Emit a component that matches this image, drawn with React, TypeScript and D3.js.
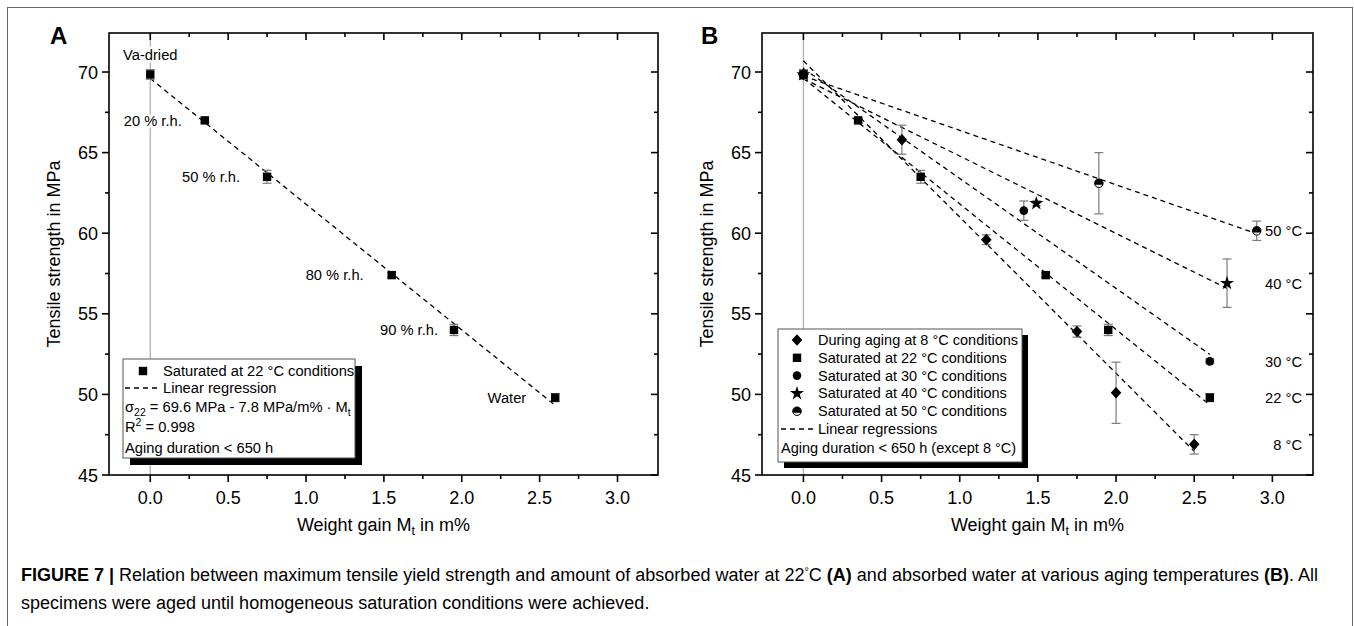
import React from "react";
import * as d3 from "d3";

const FONT = "'Liberation Sans', Arial, Helvetica, sans-serif";

// ---------- data ----------
const xTickValues = [0, 0.5, 1.0, 1.5, 2.0, 2.5, 3.0];
const xMinorValues = [-0.25, 0.25, 0.75, 1.25, 1.75, 2.25, 2.75, 3.25];
const yTickValues = [45, 50, 55, 60, 65, 70];
const yMinorValues = [47.5, 52.5, 57.5, 62.5, 67.5];

// Panel A: saturated at 22 °C
const aX = [0, 0.35, 0.75, 1.55, 1.95, 2.6];
const aY = [69.85, 67.0, 63.5, 57.4, 54.0, 49.8];
const aErr = [0.3, 0.15, 0.4, 0.15, 0.35, 0.25];
const aLabels = ["Va-dried", "20 % r.h.", "50 % r.h.", "80 % r.h.", "90 % r.h.", "Water"];
const aIntercept = 69.6;
const aSlope = -7.8;

// Panel B series
const b8X = [0, 0.63, 1.17, 1.75, 2.0, 2.5];
const b8Y = [69.85, 65.8, 59.6, 53.9, 50.1, 46.9];
const b8Err = [0.3, 0.9, 0.3, 0.35, 1.9, 0.6];

const b22X = [0, 0.35, 0.75, 1.55, 1.95, 2.6];
const b22Y = [69.85, 67.0, 63.5, 57.4, 54.0, 49.8];
const b22Err = [0.3, 0.15, 0.4, 0.15, 0.35, 0.25];

const b30X = [0, 1.41, 2.6];
const b30Y = [69.85, 61.4, 52.05];
const b30Err = [0.3, 0.6, 0.15];

const b40X = [0, 1.49, 2.71];
const b40Y = [69.85, 61.85, 56.9];
const b40Err = [0.3, 0.15, 1.5];

const b50X = [0, 1.89, 2.9];
const b50Y = [69.85, 63.1, 60.15];
const b50Err = [0.3, 1.9, 0.6];

const bSeriesNames = [
  "During aging at 8 °C conditions",
  "Saturated at 22 °C conditions",
  "Saturated at 30 °C conditions",
  "Saturated at 40 °C conditions",
  "Saturated at 50 °C conditions",
];
const bTempLabels = ["8 °C", "22 °C", "30 °C", "40 °C", "50 °C"];

// ---------- layout ----------
const W = 1354;
const H = 626;
const TOP = 33;
const BOTTOM = 475;
const X_DOMAIN: [number, number] = [-0.265, 3.26];
const Y_DOMAIN: [number, number] = [45, 72.42];

type Marker = "square" | "diamond" | "circle" | "star" | "half";

function linreg(xs: number[], ys: number[]) {
  const mx = d3.mean(xs)!;
  const my = d3.mean(ys)!;
  let sxy = 0;
  let sxx = 0;
  xs.forEach((x, i) => {
    sxy += (x - mx) * (ys[i] - my);
    sxx += (x - mx) * (x - mx);
  });
  const slope = sxy / sxx;
  return { slope, intercept: my - slope * mx };
}

const starPath = d3.symbol().type(d3.symbolStar).size(62)()!;

function MarkerShape({ type, cx, cy }: { type: Marker; cx: number; cy: number }) {
  if (type === "square") return <rect x={cx - 4.2} y={cy - 4.2} width={8.4} height={8.4} fill="#000" />;
  if (type === "diamond")
    return (
      <path
        d={`M${cx},${cy - 5.8}L${cx + 5.3},${cy}L${cx},${cy + 5.8}L${cx - 5.3},${cy}Z`}
        fill="#000"
      />
    );
  if (type === "circle") return <circle cx={cx} cy={cy} r={4.3} fill="#000" />;
  if (type === "star") return <path d={starPath} transform={`translate(${cx},${cy})`} fill="#000" />;
  // half-filled circle: black with a light lower segment
  const r = 4.3;
  const h = 1.6;
  const w = Math.sqrt(r * r - h * h);
  return (
    <g>
      <circle cx={cx} cy={cy} r={r} fill="#000" />
      <path d={`M${cx - w},${cy + h} A${r},${r} 0 0 0 ${cx + w},${cy + h} Z`} fill="#e6e6e6" />
      <circle cx={cx} cy={cy} r={r} fill="none" stroke="#000" strokeWidth={0.9} />
    </g>
  );
}

function Axes({
  x,
  y,
  left,
  right,
}: {
  x: d3.ScaleLinear<number, number>;
  y: d3.ScaleLinear<number, number>;
  left: number;
  right: number;
}) {
  const maj = 7;
  const min = 4;
  const sw = 1.6;
  const inX = (v: number) => x(v) > left + 3 && x(v) < right - 3;
  return (
    <g stroke="#000" strokeWidth={sw} fill="none">
      <rect x={left} y={TOP} width={right - left} height={BOTTOM - TOP} />
      {xTickValues.map((v) => (
        <g key={"xm" + v}>
          <line x1={x(v)} x2={x(v)} y1={BOTTOM} y2={BOTTOM + maj} />
          <line x1={x(v)} x2={x(v)} y1={TOP} y2={TOP + maj} />
        </g>
      ))}
      {xMinorValues.filter(inX).map((v) => (
        <g key={"xn" + v}>
          <line x1={x(v)} x2={x(v)} y1={BOTTOM} y2={BOTTOM + min} />
          <line x1={x(v)} x2={x(v)} y1={TOP} y2={TOP + min} />
        </g>
      ))}
      {yTickValues.map((v) => (
        <g key={"ym" + v}>
          <line x1={left - maj} x2={left} y1={y(v)} y2={y(v)} />
          <line x1={right - maj} x2={right} y1={y(v)} y2={y(v)} />
        </g>
      ))}
      {yMinorValues.map((v) => (
        <g key={"yn" + v}>
          <line x1={left - min} x2={left} y1={y(v)} y2={y(v)} />
          <line x1={right - min} x2={right} y1={y(v)} y2={y(v)} />
        </g>
      ))}
      <g stroke="none" fill="#000" fontFamily={FONT} fontSize={18}>
        {xTickValues.map((v) => (
          <text key={"xl" + v} x={x(v)} y={504} textAnchor="middle">
            {d3.format(".1f")(v)}
          </text>
        ))}
        {yTickValues.map((v) => (
          <text key={"yl" + v} x={left - 11} y={y(v) + 6.5} textAnchor="end">
            {v}
          </text>
        ))}
        <text x={(left + right) / 2} y={531} textAnchor="middle">
          Weight gain M
          <tspan dy={4} fontSize={12.5}>
            t
          </tspan>
          <tspan dy={-4}> in m%</tspan>
        </text>
        <text
          transform={`translate(${left - 49},${(TOP + BOTTOM) / 2}) rotate(-90)`}
          textAnchor="middle"
        >
          Tensile strength in MPa
        </text>
      </g>
    </g>
  );
}

function ErrorBar({ cx, y1, y2 }: { cx: number; y1: number; y2: number }) {
  const c = 4.5;
  return (
    <g stroke="#7a7a7a" strokeWidth={1.2}>
      <line x1={cx} x2={cx} y1={y1} y2={y2} />
      <line x1={cx - c} x2={cx + c} y1={y1} y2={y1} />
      <line x1={cx - c} x2={cx + c} y1={y2} y2={y2} />
    </g>
  );
}

const DASH = "5,4";

function PanelA() {
  const left = 109;
  const right = 658;
  const x = d3.scaleLinear().domain(X_DOMAIN).range([left, right]);
  const y = d3.scaleLinear().domain(Y_DOMAIN).range([BOTTOM, TOP]);
  const labelPlace = [
    { anchor: "middle", dx: 0, dy: -14 },
    { anchor: "end", dx: -23, dy: 6 },
    { anchor: "end", dx: -27, dy: 5 },
    { anchor: "end", dx: -28, dy: 5 },
    { anchor: "end", dx: -16, dy: 5 },
    { anchor: "end", dx: -29, dy: 5 },
  ];
  const xEnd = aX[aX.length - 1];
  const fs = 14.7;
  return (
    <g>
      <line x1={x(0)} x2={x(0)} y1={TOP} y2={BOTTOM} stroke="#b0b0b0" strokeWidth={1.3} />
      <line
        x1={x(0)}
        y1={y(aIntercept)}
        x2={x(xEnd)}
        y2={y(aIntercept + aSlope * xEnd)}
        stroke="#000"
        strokeWidth={1.3}
        strokeDasharray={DASH}
      />
      {aX.map((v, i) => (
        <g key={i}>
          <ErrorBar cx={x(v)} y1={y(aY[i] + aErr[i])} y2={y(aY[i] - aErr[i])} />
          <MarkerShape type="square" cx={x(v)} cy={y(aY[i])} />
        </g>
      ))}
      {aLabels.map((t, i) => (
        <text
          key={t}
          x={x(aX[i]) + labelPlace[i].dx}
          y={y(aY[i]) + labelPlace[i].dy}
          textAnchor={labelPlace[i].anchor as any}
          fontFamily={FONT}
          fontSize={fs}
          fill="#000"
          stroke="#fff"
          strokeWidth={5}
          paintOrder="stroke"
        >
          {t}
        </text>
      ))}
      {/* legend */}
      <g fontFamily={FONT} fontSize={fs}>
        <rect x={130} y={366} width={232} height={99} fill="#000" />
        <rect x={123} y={359} width={232} height={99} fill="#fff" stroke="#555" strokeWidth={1} />
        <MarkerShape type="square" cx={143} cy={371} />
        <text x={163} y={376}>Saturated at 22 °C conditions</text>
        <line x1={125} x2={161} y1={388} y2={388} stroke="#000" strokeWidth={1.3} strokeDasharray={DASH} />
        <text x={163} y={393}>Linear regression</text>
        <text x={125} y={412}>
          σ
          <tspan dy={4} fontSize={10.5}>
            22
          </tspan>
          <tspan dy={-4}> = 69.6 MPa - 7.8 MPa/m% · M</tspan>
          <tspan dy={4} fontSize={10.5}>
            t
          </tspan>
        </text>
        <text x={125} y={432}>
          R
          <tspan dy={-6} fontSize={10.5}>
            2
          </tspan>
          <tspan dy={6}> = 0.998</tspan>
        </text>
        <text x={125} y={453}>Aging duration &lt; 650 h</text>
      </g>
      <Axes x={x} y={y} left={left} right={right} />
      <text x={50} y={44} fontFamily={FONT} fontSize={24} fontWeight="bold">
        A
      </text>
    </g>
  );
}

function PanelB() {
  const left = 762;
  const right = 1313;
  const x = d3.scaleLinear().domain(X_DOMAIN).range([left, right]);
  const y = d3.scaleLinear().domain(Y_DOMAIN).range([BOTTOM, TOP]);
  const series: { xs: number[]; ys: number[]; err: number[]; m: Marker }[] = [
    { xs: b8X, ys: b8Y, err: b8Err, m: "diamond" },
    { xs: b22X, ys: b22Y, err: b22Err, m: "square" },
    { xs: b30X, ys: b30Y, err: b30Err, m: "circle" },
    { xs: b40X, ys: b40Y, err: b40Err, m: "star" },
    { xs: b50X, ys: b50Y, err: b50Err, m: "half" },
  ];
  const drawOrder = series.map((_, k) => k).reverse();
  const fs = 14.5;
  return (
    <g>
      <line x1={x(0)} x2={x(0)} y1={TOP} y2={BOTTOM} stroke="#b0b0b0" strokeWidth={1.3} />
      {series.map((s, k) => {
        const r = linreg(s.xs, s.ys);
        const xe = d3.max(s.xs)!;
        return (
          <line
            key={"reg" + k}
            x1={x(0)}
            y1={y(r.intercept)}
            x2={x(xe)}
            y2={y(r.intercept + r.slope * xe)}
            stroke="#000"
            strokeWidth={1.3}
            strokeDasharray={DASH}
          />
        );
      })}
      {series.map((s, k) => (
        <g key={"s" + k}>
          {s.xs.map((v, i) => (
            <ErrorBar key={"e" + i} cx={x(v)} y1={y(s.ys[i] + s.err[i])} y2={y(s.ys[i] - s.err[i])} />
          ))}
        </g>
      ))}
      {drawOrder.map((k) => {
        const s = series[k];
        return (
          <g key={"m" + k}>
            {s.xs.map((v, i) => (
              <MarkerShape key={i} type={s.m} cx={x(v)} cy={y(s.ys[i])} />
            ))}
          </g>
        );
      })}
      {series.map((s, k) => (
        <text
          key={"t" + k}
          x={1302}
          y={y(s.ys[s.ys.length - 1]) + 5.5}
          textAnchor="end"
          fontFamily={FONT}
          fontSize={14.7}
        >
          {bTempLabels[k]}
        </text>
      ))}
      {/* legend */}
      <g fontFamily={FONT} fontSize={fs}>
        <rect x={784} y={335} width={244} height={133} fill="#000" />
        <rect x={778} y={329} width={244} height={133} fill="#fff" stroke="#555" strokeWidth={1} />
        {series.map((s, k) => {
          const cy = 340 + k * 17.8;
          return (
            <g key={"l" + k}>
              <MarkerShape type={s.m} cx={797} cy={cy} />
              <text x={818} y={cy + 5}>
                {bSeriesNames[k]}
              </text>
            </g>
          );
        })}
        <line x1={781} x2={816} y1={429} y2={429} stroke="#000" strokeWidth={1.3} strokeDasharray={DASH} />
        <text x={818} y={434}>Linear regressions</text>
        <text x={781} y={453}>Aging duration &lt; 650 h (except 8 °C)</text>
      </g>
      <Axes x={x} y={y} left={left} right={right} />
      <text x={701} y={44} fontFamily={FONT} fontSize={24} fontWeight="bold">
        B
      </text>
    </g>
  );
}

export default function App() {
  return (
    <svg
      width={W}
      height={H}
      viewBox={`0 0 ${W} ${H}`}
      style={{ position: "absolute", left: 0, top: 0, background: "#fff" }}
    >
      <rect x={0} y={0} width={W} height={H} fill="#fff" />
      <rect x={7.5} y={7.5} width={1345} height={700} fill="none" stroke="#666" strokeWidth={1} />
      <PanelA />
      <PanelB />
      <g fontFamily={FONT} fontSize={18} fill="#000">
        <text x={21} y={581}>
          <tspan fontWeight="bold">FIGURE 7</tspan>
          <tspan fontWeight="bold"> | </tspan>
          <tspan>Relation between maximum tensile yield strength and amount of absorbed water at 22</tspan>
          <tspan dy={-6} fontSize={11}>
            °
          </tspan>
          <tspan dy={6}>C </tspan>
          <tspan fontWeight="bold">(A)</tspan>
          <tspan> and absorbed water at various aging temperatures </tspan>
          <tspan fontWeight="bold">(B)</tspan>
          <tspan>. All</tspan>
        </text>
        <text x={21} y={609}>
          specimens were aged until homogeneous saturation conditions were achieved.
        </text>
      </g>
    </svg>
  );
}
